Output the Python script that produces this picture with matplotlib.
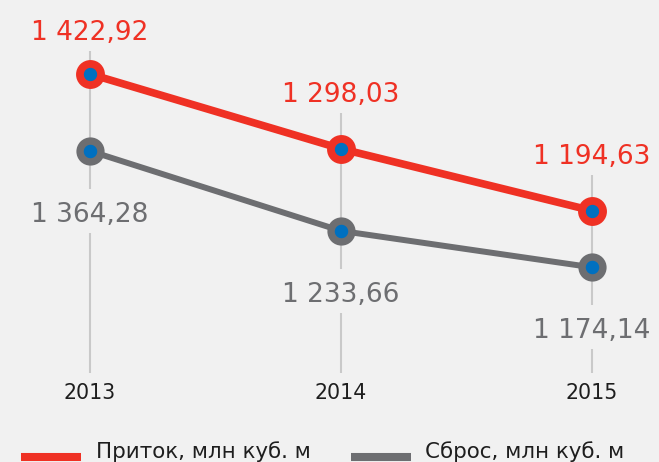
import matplotlib
matplotlib.use("Agg")
import matplotlib.pyplot as plt
from matplotlib.lines import Line2D

# ---- data ----
years = ["2013", "2014", "2015"]
inflow = [1422.92, 1298.03, 1194.63]
discharge = [1364.28, 1233.66, 1174.14]
inflow_labels = ["1 422,92", "1 298,03", "1 194,63"]
discharge_labels = ["1 364,28", "1 233,66", "1 174,14"]
legend_labels = ["Приток, млн куб. м", "Сброс, млн куб. м"]

# ---- style ----
W, H, DPI = 659, 462, 100
bg = "#f1f1f1"
red = "#ef3124"
grey = "#6d6e71"
blue = "#0070c0"
gridc = "#c9c9c9"
textc = "#1e1e1e"
plt.rcParams['font.family'] = ['DejaVu Sans']

fig = plt.figure(figsize=(W / DPI, H / DPI), dpi=DPI)
fig.patch.set_facecolor(bg)
ax = fig.add_axes([0, 0, 1, 1])
ax2 = ax.twinx()
for a in (ax, ax2):
    a.set_axis_off()

x = list(range(len(years)))
ax.set_xlim(-90 / 251, (W - 90) / 251)
ax.set_ylim(774.96, 1546.5)
ax2.set_ylim(855.86, 1611.13)


def px_from_top(a, xv, yv):
    return H - a.transData.transform((xv, yv))[1]


xt = ax.get_xaxis_transform()

for i, xi in enumerate(x):
    ry = px_from_top(ax, xi, inflow[i])
    gy = px_from_top(ax2, xi, discharge[i])
    r_off = min(47, ry - 40)
    r_base = ry - r_off
    g_base = gy + 71
    grid_top = r_base + 11
    gap_top = g_base - 33
    gap_bot = g_base + 11
    grid_bot = 373
    ax.plot([xi, xi], [1 - grid_top / H, 1 - gap_top / H], transform=xt,
            color=gridc, lw=1.5, zorder=1, solid_capstyle='butt')
    ax.plot([xi, xi], [1 - gap_bot / H, 1 - grid_bot / H], transform=xt,
            color=gridc, lw=1.5, zorder=1, solid_capstyle='butt')
    ax.annotate(inflow_labels[i], (xi, inflow[i]), xytext=(0, r_off),
                textcoords='offset pixels', ha='center', va='baseline',
                fontsize=19, color=red, zorder=5)
    ax2.annotate(discharge_labels[i], (xi, discharge[i]), xytext=(0, -71),
                 textcoords='offset pixels', ha='center', va='baseline',
                 fontsize=19, color=grey, zorder=5)
    ax.text(xi, 1 - 399.3 / H, years[i], transform=xt, ha='center',
            va='baseline', fontsize=14.8, color=textc)

ax.plot(x, inflow, color=red, lw=5.5, marker='o', ms=15.2, mfc=blue,
        mec=red, mew=5.6, zorder=3, clip_on=False)
ax2.plot(x, discharge, color=grey, lw=4.3, marker='o', ms=15, mfc=blue,
         mec=grey, mew=5.3, zorder=3, clip_on=False)

# ---- legend (manual) ----
ly = 1 - 456.7 / H
fig.add_artist(Line2D([21 / W, 81 / W], [ly, ly], color=red, lw=5.8,
                      solid_capstyle='butt'))
fig.add_artist(Line2D([351 / W, 411 / W], [ly, ly], color=grey, lw=5.8,
                      solid_capstyle='butt'))
fig.text(96 / W, 1 - 458.3 / H, legend_labels[0], fontsize=15.4, color=textc,
         va='baseline', ha='left')
fig.text(425 / W, 1 - 458.3 / H, legend_labels[1], fontsize=15.4, color=textc,
         va='baseline', ha='left')

fig.savefig("out.png", dpi=DPI, facecolor=bg)
